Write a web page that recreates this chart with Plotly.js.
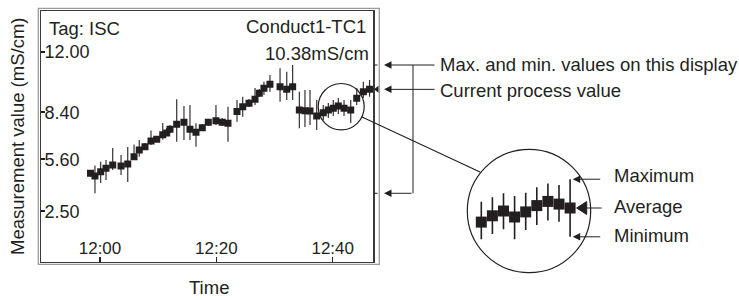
<!DOCTYPE html>
<html><head><meta charset="utf-8">
<script src="https://cdn.plot.ly/plotly-3.0.1.min.js"></script>
<style>html,body{margin:0;padding:0;background:#fff}#chart{width:739px;height:300px}</style>
</head><body><div id="chart"></div>
<script>
// ---- data ----
const day = '2024-01-01 ';
const times = ['11:58:22','11:59:08','12:00:07','12:01:02','12:02:11','12:03:37','12:04:46','12:05:51','12:06:45','12:07:44','12:08:46','12:09:45','12:10:47','12:11:28','12:12:02','12:13:11','12:14:26','12:15:28','12:16:30','12:17:35','12:18:37','12:19:56','12:21:01','12:22:00','12:23:33','12:24:32','12:25:37','12:26:39','12:27:23','12:28:11','12:29:13','12:30:57','12:32:06','12:33:07','12:34:16','12:35:14','12:36:06','12:37:15','12:38:23','12:39:15','12:40:06','12:40:58','12:41:57','12:43:06','12:44:08','12:45:16','12:46:20'];
const avgVals = [4.76,4.60,4.86,5.06,5.26,5.20,5.31,5.75,6.15,6.34,6.68,6.79,7.06,7.16,7.38,7.68,7.80,7.38,7.20,7.48,7.80,7.89,7.80,7.74,8.44,8.73,8.93,9.17,9.53,9.82,10.06,9.92,9.76,9.92,8.53,8.49,8.47,8.17,8.37,8.53,8.63,8.77,8.63,8.53,9.23,9.62,9.76];
const maxVals = [4.96,5.23,5.45,5.55,6.27,5.85,6.33,6.48,6.74,6.57,7.31,6.98,7.76,7.46,7.64,9.17,8.77,8.83,7.74,7.70,8.00,8.83,8.05,8.73,9.13,9.32,9.19,9.84,9.78,10.22,10.62,11.01,10.81,11.21,9.62,9.72,9.72,9.13,8.83,8.95,9.13,9.25,9.13,9.13,9.84,10.22,10.32];
const minVals = [4.57,3.57,4.18,4.36,4.96,4.66,4.24,5.55,5.75,6.15,6.45,6.62,6.77,6.98,7.16,6.64,6.74,6.74,6.34,7.28,7.58,7.64,7.58,6.64,7.83,8.13,8.71,8.83,9.30,9.42,9.62,9.02,9.13,9.13,7.44,7.52,7.64,7.34,7.93,8.05,8.17,8.29,8.17,7.76,8.83,9.25,9.32];
const xTickTimes = ['12:00','12:20','12:40'];
const yTickVals = [12.0, 8.4, 5.6, 2.5];
const yTickText = ['12.00','8.40','5.60','2.50'];
// magnified view
const zoomIdx = [1,2,3,4,5,6,7,8,9];
const zoomAvg = [8.23,8.44,8.60,8.40,8.57,8.78,8.92,8.83,8.70];
const zoomMax = [8.91,9.06,9.19,9.10,9.21,9.39,9.52,9.47,9.66];
const zoomMin = [7.66,7.83,7.99,7.66,7.97,8.13,8.28,8.24,7.74];
// texts
const tagLabel = 'Tag: ISC';
const channelLabel = 'Conduct1-TC1';
const currentText = '10.38mS/cm';
const yTitle = 'Measurement value (mS/cm)';
const xTitle = 'Time';
const noteMaxMin = 'Max. and min. values on this display';
const noteCurrent = 'Current process value';
const zoomLabels = ['Maximum','Average','Minimum'];

// ---- layout helpers ----
const W = 739, H = 300;
const PX = x => x / W;
const PY = y => 1 - y / H;
const INK = '#231f20';
const FONT = '"Liberation Sans", Arial, Helvetica, sans-serif';

const maxAll = Math.max(...maxVals);
const minAll = Math.min(...minVals);
const lastAvg = avgVals[avgVals.length - 1];
const zl = zoomIdx.length - 1;

const main = {
  type: 'scatter', mode: 'markers', xaxis: 'x', yaxis: 'y',
  x: times.map(t => day + t), y: avgVals,
  marker: {symbol: 'square', size: 7, color: INK},
  error_y: {type: 'data', symmetric: false,
    array: maxVals.map((v, i) => v - avgVals[i]),
    arrayminus: minVals.map((v, i) => avgVals[i] - v),
    width: 0, thickness: 1.2, color: '#333'},
  hoverinfo: 'skip'
};
const zoom = {
  type: 'scatter', mode: 'markers', xaxis: 'x2', yaxis: 'y2',
  x: zoomIdx, y: zoomAvg, cliponaxis: false,
  marker: {symbol: 'square', size: 11, color: INK},
  error_y: {type: 'data', symmetric: false,
    array: zoomMax.map((v, i) => v - zoomAvg[i]),
    arrayminus: zoomMin.map((v, i) => zoomAvg[i] - v),
    width: 0, thickness: 1.6, color: INK},
  hoverinfo: 'skip'
};

function txt(text, x, y, anchor, size, extra) {
  return Object.assign({text, xref: 'paper', yref: 'paper', x: PX(x), y: PY(y),
    xanchor: anchor, yanchor: 'middle', showarrow: false,
    font: {family: FONT, size: size, color: INK}}, extra || {});
}
function arrow(x, yref, y, len) {
  return {text: '', xref: 'paper', yref: yref, x: PX(x), y: y, ax: len, ay: 0,
    showarrow: true, arrowhead: 2, arrowsize: 1.5, arrowwidth: 1, arrowcolor: INK, standoff: 0};
}

const layout = {
  width: W, height: H,
  margin: {l: 0, r: 0, t: 0, b: 0},
  paper_bgcolor: '#fff', plot_bgcolor: '#fff',
  showlegend: false,
  font: {family: FONT, color: INK},
  xaxis: {
    domain: [PX(41), PX(373.3)], anchor: 'y', type: 'date',
    range: [day + '11:49:51.5', day + '12:46:58.8'],
    tickvals: xTickTimes.map(t => day + t + ':00'), tickformat: '%H:%M',
    ticks: 'inside', ticklen: 5, tickwidth: 1.6, tickcolor: INK,
    ticklabelposition: 'inside', tickfont: {size: 17, color: INK},
    showline: true, mirror: true, linecolor: '#3a3a3a', linewidth: 1.4,
    showgrid: false, zeroline: false
  },
  yaxis: {
    domain: [PY(262), PY(11)], anchor: 'x',
    range: [-0.522, 14.427],
    tickvals: yTickVals, ticktext: yTickText,
    ticks: 'inside', ticklen: 4, tickwidth: 1.6, tickcolor: INK,
    ticklabelposition: 'inside', tickfont: {size: 18, color: INK},
    showline: true, mirror: true, linecolor: '#3a3a3a', linewidth: 1.4,
    showgrid: false, zeroline: false
  },
  xaxis2: {domain: [PX(467.3), PX(590.7)], anchor: 'y2', range: [-0.261, 10.856], visible: false},
  yaxis2: {domain: [PY(272.7), PY(149.3)], anchor: 'x2', range: [6.543, 10.657], visible: false},
  shapes: [
    {type: 'rect', xref: 'paper', yref: 'paper', x0: PX(38.3), x1: PX(379.3), y0: PY(264.3), y1: PY(8.3),
      line: {color: '#9b9b9b', width: 1.3}},
    {type: 'line', xref: 'paper', yref: 'y', x0: PX(374), x1: PX(377.5), y0: maxAll, y1: maxAll, line: {color: INK, width: 1}},
    {type: 'line', xref: 'paper', yref: 'y', x0: PX(374), x1: PX(377.5), y0: minAll, y1: minAll, line: {color: INK, width: 1}},
    {type: 'path', xref: 'paper', xsizemode: 'pixel', xanchor: PX(374), yref: 'y', ysizemode: 'pixel', yanchor: lastAvg,
      path: 'M0,0 L4.5,3.5 L4.5,-3.5 Z', fillcolor: INK, line: {width: 0}},
    {type: 'line', xref: 'paper', yref: 'y', x0: PX(413), x1: PX(413), y0: minAll, y1: maxAll, line: {color: INK, width: 1}},
    {type: 'circle', xref: 'paper', yref: 'paper', x0: PX(318.2), x1: PX(364.2), y0: PY(129.9), y1: PY(83.5),
      line: {color: INK, width: 1.2}},
    {type: 'line', xref: 'paper', yref: 'paper', x0: PX(362), y0: PY(117), x1: PX(480), y1: PY(172), line: {color: INK, width: 1.1}},
    {type: 'circle', xref: 'paper', yref: 'paper', x0: PX(467.3), x1: PX(590.7), y0: PY(272.7), y1: PY(149.3),
      line: {color: INK, width: 1.2}},
    {type: 'path', xref: 'paper', xsizemode: 'pixel', xanchor: PX(576.7), yref: 'y2', ysizemode: 'pixel', yanchor: zoomAvg[zl],
      path: 'M0,0 L10,6.5 L10,-6.5 Z M10,0 L25,0', fillcolor: INK, line: {color: INK, width: 1}}
  ],
  annotations: [
    txt(tagLabel, 47, 28, 'left', 18.5),
    txt(channelLabel, 367.5, 27, 'right', 18.5),
    txt(currentText, 371.5, 54, 'right', 18.5),
    txt(noteMaxMin, 437.5, 64, 'left', 18.5),
    txt(noteCurrent, 437.5, 90.5, 'left', 18.5),
    txt(zoomLabels[0], 611.5, 175.5, 'left', 18.5),
    txt(zoomLabels[1], 611.5, 206.5, 'left', 18.5),
    txt(zoomLabels[2], 611.5, 235, 'left', 18.5),
    txt(yTitle, 17, 137, 'center', 18.5, {textangle: -90}),
    txt(xTitle, 209, 287, 'center', 18.5),
    arrow(384, 'y', maxAll, 52),
    arrow(384, 'y', lastAvg, 52),
    arrow(384, 'y', minAll, 29),
    arrow(572.7, 'y2', zoomMax[zl], 29),
    arrow(572.7, 'y2', zoomMin[zl], 29)
  ]
};

Plotly.newPlot('chart', [main, zoom], layout, {staticPlot: true, displayModeBar: false});
</script>
</body></html>
